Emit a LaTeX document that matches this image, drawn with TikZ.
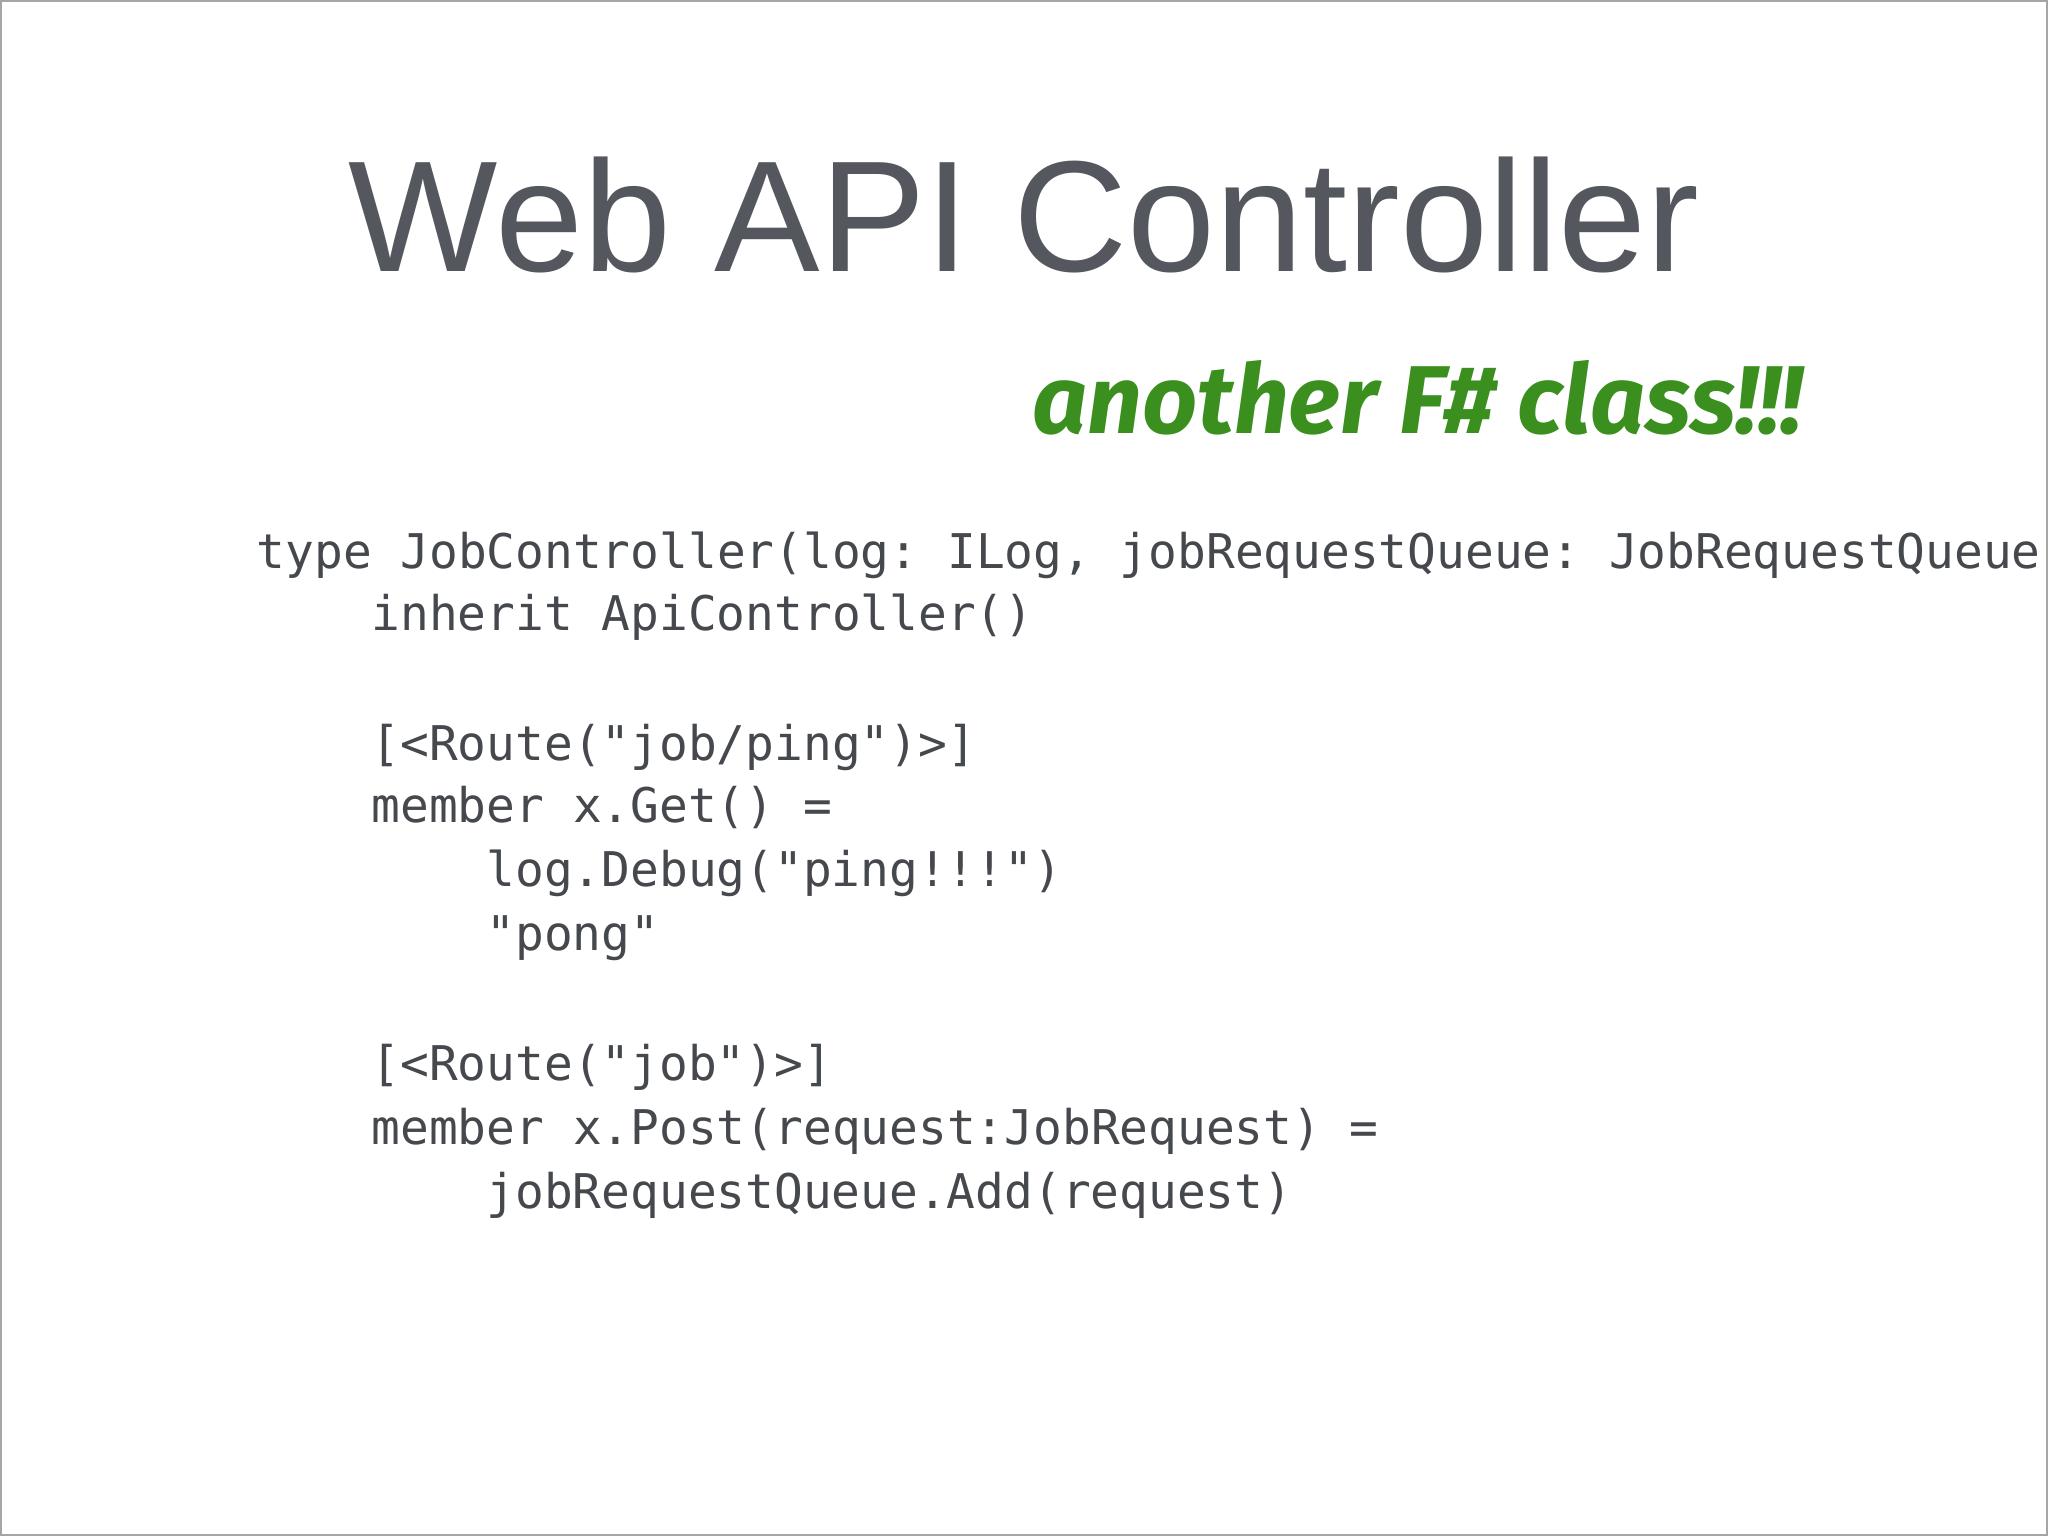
\documentclass[tikz,border=0pt]{standalone}
\usepackage{fontspec}
\setmainfont{Liberation Sans}
\setmonofont{DejaVu Sans Mono}
\newfontfamily\handfont{Fira Sans}
\definecolor{txtgray}{HTML}{54585E}
\definecolor{codegray}{HTML}{45484D}
\definecolor{hgreen}{HTML}{3A8F1E}
\begin{document}
\begin{tikzpicture}[x=0.013061cm,y=-0.013061cm,
  code/.style={anchor=base west,inner sep=0pt,text=codegray,font=\fontsize{13.6pt}{16pt}\ttfamily}]
\useasboundingbox (0,0) rectangle (1568,1176);
\fill[white] (0,0) rectangle (1568,1176);
\draw[gray!70,line width=0.8pt] (0.5,0.5) rectangle (1567.5,1175.5);
\begin{scope}
\clip (1,1) rectangle (1567,1175);
\node[anchor=base,inner sep=0pt,text=txtgray,font=\fontsize{45pt}{50pt}\selectfont] (title) at (784,208) {Web API Controller};
\node[anchor=base west,inner sep=0pt,text=hgreen] (note) at (790,332) {\resizebox{7.7cm}{!}{\handfont\bfseries\itshape another F\# class!!!}};
\node[code] (l1) at (196,435) {type JobController(log: ILog, jobRequestQueue: JobRequestQueue) =};
\node[code] (l2) at (284,483) {inherit ApiController()};
\node[code] (l3) at (284,582) {[<Route("job/ping")>]};
\node[code] (l4) at (284,630) {member x.Get() =};
\node[code] (l5) at (372,679) {log.Debug("ping!!!")};
\node[code] (l6) at (372,728) {"pong"};
\node[code] (l7) at (284,827) {[<Route("job")>]};
\node[code] (l8) at (284,876) {member x.Post(request:JobRequest) =};
\node[code] (l9) at (372,925) {jobRequestQueue.Add(request)};
\end{scope}
\end{tikzpicture}
\end{document}
